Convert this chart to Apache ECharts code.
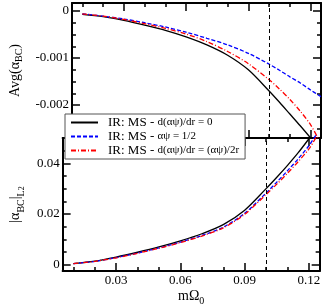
<!DOCTYPE html>
<html>
<head>
<meta charset="utf-8">
<script src="https://cdn.jsdelivr.net/npm/echarts@6/dist/echarts.min.js"></script>
<style>html,body{margin:0;padding:0;background:#fff}#c{width:323px;height:307px}</style>
</head>
<body>
<div id="c"></div>
<script>
// ---- data ----
const mOmega   = [0.01, 0.02, 0.03, 0.04, 0.05, 0.06, 0.07, 0.08, 0.09, 0.10, 0.105, 0.11, 0.115, 0.12, 0.1235, 0.125];
const avgBlack = [-0.00007, -0.00012, -0.00020, -0.00030, -0.00041, -0.00055, -0.00072, -0.00094, -0.00125, -0.00170, -0.00194, -0.00219, -0.00244, -0.00270, null, null];
const avgBlue  = [-0.00006, -0.00011, -0.00017, -0.00025, -0.00034, -0.00045, -0.00058, -0.00072, -0.00090, -0.00113, -0.00126, -0.00140, -0.00153, -0.00168, -0.00178, -0.00182];
const avgRed   = [-0.00006, -0.00011, -0.00018, -0.00027, -0.00037, -0.00049, -0.00065, -0.00086, -0.00112, -0.00146, -0.00166, -0.00188, -0.00213, -0.00242, -0.00270, null];
const l2Black  = [0.0004, 0.0014, 0.0030, 0.0049, 0.0070, 0.0094, 0.0122, 0.0158, 0.0215, 0.0300, 0.0345, 0.0392, 0.0442, 0.0497, null, null];
const l2Blue   = [0.0004, 0.0013, 0.0028, 0.0046, 0.0066, 0.0089, 0.0115, 0.0148, 0.0203, 0.0283, 0.0326, 0.0371, 0.0418, 0.0470, 0.0515, null];
const l2Red    = [0.0004, 0.0013, 0.0027, 0.0045, 0.0065, 0.0087, 0.0113, 0.0145, 0.0199, 0.0277, 0.0318, 0.0361, 0.0407, 0.0457, 0.0505, null];
const seriesNames = ['IR: MS - d(αψ)/dr = 0', 'IR: MS - αψ = 1/2', 'IR: MS - d(αψ)/dr = (αψ)/2r'];
const xMajorTicks = [0.03, 0.06, 0.09, 0.12];
const xMinorTicks = [0.01, 0.02, 0.04, 0.05, 0.07, 0.08, 0.10, 0.11];
const avgMajorTicks = [0, -0.001, -0.002];
const avgMinorTicks = [-0.00025, -0.0005, -0.00075, -0.00125, -0.0015, -0.00175, -0.00225, -0.0025];
const l2MajorTicks = [0, 0.02, 0.04];
const l2MinorTicks = [0.005, 0.01, 0.015, 0.025, 0.03, 0.035, 0.045];
const cutoffX = [0.1];

// ---- helpers ----
const FONT = 'Liberation Serif';
const BLACK = '#000';
function pairs(ys) { return mOmega.map((x, i) => [x, ys[i]]).filter(p => p[1] !== null); }

function mkAxis(g, pos, range, ticks, major, labels, extra) {
  const a = {
    type: 'value', gridIndex: g, position: pos, min: range[0], max: range[1],
    axisLine: { show: major, onZero: false, lineStyle: { color: BLACK, width: 2 } },
    axisTick: { show: true, inside: true, length: major ? 8 : 4, customValues: ticks, lineStyle: { color: BLACK, width: 1.5 } },
    axisLabel: { show: !!labels, customValues: ticks, color: BLACK, fontFamily: FONT, fontSize: 13, margin: 3,
                 formatter: v => String(v) },
    splitLine: { show: false }
  };
  return Object.assign(a, extra || {});
}
const xRange = [0.005, 0.125];
const avgRange = [-0.0027, 0.00017];
const l2Range = [-0.0025, 0.05];

const subRich = {
  m: { fontSize: 14, fontFamily: FONT, color: BLACK },
  s: { fontSize: 10, fontFamily: FONT, color: BLACK, verticalAlign: 'bottom', padding: [9, 0, 0, 0] },
  ss: { fontSize: 8, fontFamily: FONT, color: BLACK, verticalAlign: 'bottom', padding: [14, 0, 0, 0] }
};

const xAxes = [
  mkAxis(0, 'bottom', xRange, xMajorTicks, true, false),
  mkAxis(0, 'bottom', xRange, xMinorTicks, false, false),
  mkAxis(0, 'top', xRange, xMajorTicks, true, false),
  mkAxis(0, 'top', xRange, xMinorTicks, false, false),
  mkAxis(1, 'bottom', xRange, xMajorTicks, true, true, {
    name: '{m|mΩ}{s|0}', nameLocation: 'middle', nameGap: 16, nameTextStyle: { rich: subRich } }),
  mkAxis(1, 'bottom', xRange, xMinorTicks, false, false),
  mkAxis(1, 'top', xRange, xMajorTicks, true, false),
  mkAxis(1, 'top', xRange, xMinorTicks, false, false)
];
const yAxes = [
  mkAxis(0, 'left', avgRange, avgMajorTicks, true, true, {
    name: '{m|Avg(α}{s|BC}{m|)}', nameLocation: 'middle', nameRotate: 90, nameGap: 37, nameTextStyle: { rich: subRich } }),
  mkAxis(0, 'left', avgRange, avgMinorTicks, false, false),
  mkAxis(0, 'right', avgRange, avgMajorTicks, true, false),
  mkAxis(0, 'right', avgRange, avgMinorTicks, false, false),
  mkAxis(1, 'left', l2Range, l2MajorTicks, true, true, {
    name: '{m|\|α}{s|BC}{m|\|}{s|L}{ss|2}', nameLocation: 'middle', nameRotate: 90, nameGap: 34, nameTextStyle: { rich: subRich } }),
  mkAxis(1, 'left', l2Range, l2MinorTicks, false, false),
  mkAxis(1, 'right', l2Range, l2MajorTicks, true, false),
  mkAxis(1, 'right', l2Range, l2MinorTicks, false, false)
];

const styles = [
  { color: '#000000', type: 'solid' },
  { color: '#0000ff', type: [4, 2] },
  { color: '#ff0000', type: [5, 2, 1, 2] }
];
function mkSeries(name, data, st, xi, yi, withMark) {
  const s = {
    type: 'line', name: name, data: pairs(data), xAxisIndex: xi, yAxisIndex: yi,
    symbol: 'none', smooth: 0.3, clip: false, animation: false,
    lineStyle: { color: st.color, width: 1.3, type: st.type }, itemStyle: { color: st.color }
  };
  if (withMark) {
    s.markLine = { symbol: 'none', silent: true, animation: false, label: { show: false },
      lineStyle: { color: BLACK, width: 1, type: [4, 3] },
      data: cutoffX.map(v => ({ xAxis: v })) };
  }
  return s;
}
const series = [
  mkSeries(seriesNames[0], avgBlack, styles[0], 0, 0, true),
  mkSeries(seriesNames[1], avgBlue, styles[1], 0, 0, false),
  mkSeries(seriesNames[2], avgRed, styles[2], 0, 0, false),
  mkSeries(seriesNames[0], l2Black, styles[0], 4, 4, true),
  mkSeries(seriesNames[1], l2Blue, styles[1], 4, 4, false),
  mkSeries(seriesNames[2], l2Red, styles[2], 4, 4, false)
];

const chart = echarts.init(document.getElementById('c'), null, { renderer: 'canvas' });
chart.setOption({
  animation: false,
  backgroundColor: '#fff',
  grid: [
    { left: 55, top: 3, width: 266, height: 135 },
    { left: 55, top: 138, width: 266, height: 136 }
  ],
  xAxis: xAxes,
  yAxis: yAxes,
  legend: {
    data: seriesNames, orient: 'vertical', left: 65, top: 114,
    itemWidth: 27, itemHeight: 12, itemGap: 1, padding: [2, 6, 2, 5],
    backgroundColor: '#fff', borderColor: '#555', borderWidth: 1,
    itemStyle: { opacity: 0 },
    textStyle: { color: BLACK, fontFamily: FONT, fontSize: 13,
      rich: { a: { fontSize: 13, fontFamily: FONT, color: BLACK, padding: [0, 0, 0, 5] },
              b: { fontSize: 11, fontFamily: FONT, color: BLACK } } },
    formatter: function (name) {
      const p = 'IR: MS - ';
      return '{a|' + p + '}{b|' + name.slice(p.length) + '}';
    }
  },
  series: series
});
</script>
</body>
</html>
